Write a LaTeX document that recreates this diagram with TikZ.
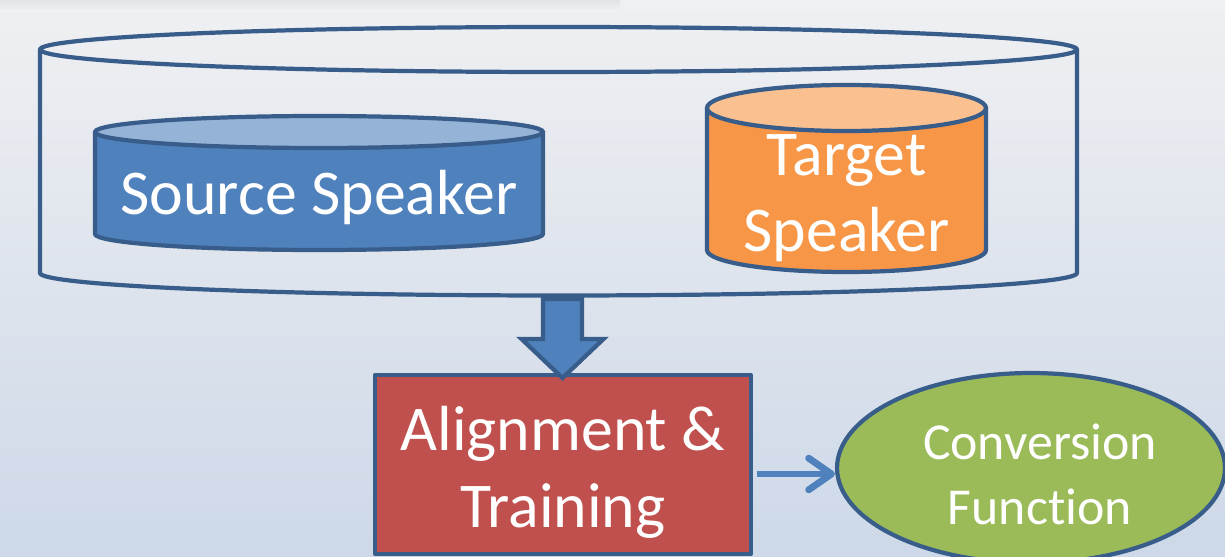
\documentclass[tikz,border=0pt]{standalone}
\usepackage{fontspec}
\setmainfont{Carlito}[Ligatures=CommonOff]
\usepackage{tikz}
\usetikzlibrary{shapes.geometric,arrows.meta}
\usepackage{xcolor}
\definecolor{vcborder}{RGB}{56,93,138}
\definecolor{vcblue}{RGB}{79,129,189}
\definecolor{vclightblue}{RGB}{149,179,215}
\definecolor{vcorange}{RGB}{247,150,70}
\definecolor{vclightorange}{RGB}{250,192,144}
\definecolor{vcred}{RGB}{192,80,77}
\definecolor{vcgreen}{RGB}{155,187,89}
\definecolor{bgtop}{RGB}{239,240,242}
\definecolor{bgbottom}{RGB}{205,216,232}
\tikzstyle{outline} = [draw=vcborder, line width=2.4pt, line join=round]
\tikzstyle{bigtext} = [text=white, font=\fontsize{36.3}{43.6}\selectfont, align=center]
\tikzstyle{midtext} = [text=white, font=\fontsize{29.5}{36.9}\selectfont, align=center]
\tikzstyle{flow} = [-{Straight Barb[length=13pt,width=18pt,round]}, line width=3.9pt, color=vcblue]

\begin{document}
\begin{tikzpicture}[x=0.02cm, y=0.02cm]
% Slide background
\shade[top color=bgtop, bottom color=bgbottom] (0,0) rectangle (1225,-557);
\shade[top color=gray!12!bgtop, bottom color=bgtop] (0,0) rectangle (620,-10);
\useasboundingbox (0,0) rectangle (1225,-557);
\clip (0,0) rectangle (1225,-557);

% Outer corpus drum (no fill)
\draw[outline] (40,-49.5) -- (40,-273) arc[start angle=180, end angle=360, x radius=518.5, y radius=22.5] -- (1077,-49.5);
\draw[outline] (558.5,-49.5) ellipse [x radius=518.5, y radius=22.5];

% Source speaker drum
\filldraw[outline, fill=vcblue] (95,-132) -- (95,-234) arc[start angle=180, end angle=360, x radius=224, y radius=16] -- (543,-132) -- cycle;
\filldraw[outline, fill=vclightblue] (319,-132) ellipse [x radius=224, y radius=16];
\node[bigtext] (src) at (319,-197) {Source Speaker};

% Target speaker drum
\filldraw[outline, fill=vcorange] (707,-108) -- (707,-250) arc[start angle=180, end angle=360, x radius=139.5, y radius=22] -- (986,-108) -- cycle;
\filldraw[outline, fill=vclightorange] (846.5,-108) ellipse [x radius=139.5, y radius=23];
\node[bigtext] (tgt) at (846.5,-198) {Target\\Speaker};

% Training and output
\node[outline, fill=vcred, minimum width=7.52cm, minimum height=3.58cm] (align) at (563,-464.5) {};
\node[bigtext] (aligntext) at ([yshift=-0.16cm]align.center) {Alignment \&\\Training};
\node[outline, fill=vcgreen, ellipse, inner sep=0pt, minimum width=7.76cm, minimum height=3.8cm] (conv) at (1031,-468) {};
\node[midtext] (convtext) at ([xshift=0.18cm, yshift=-0.12cm]conv.center) {Conversion\\Function};

% Block arrow into the training box
\coordinate (dbbot) at (562.5,-299);
\filldraw[outline, line join=miter, fill=vcblue] (dbbot) ++(-19.5,0) -- ++(0,-40) -- ++(-21.5,0) -- ++(41,-39) -- ++(41,39) -- ++(-21.5,0) -- ++(0,40) -- cycle;

% Arrow
\coordinate (out) at ([yshift=-0.19cm]align.east);
\draw[flow, shorten <=0.08cm] (out) -- (out -| conv.west);
\end{tikzpicture}
\end{document}
